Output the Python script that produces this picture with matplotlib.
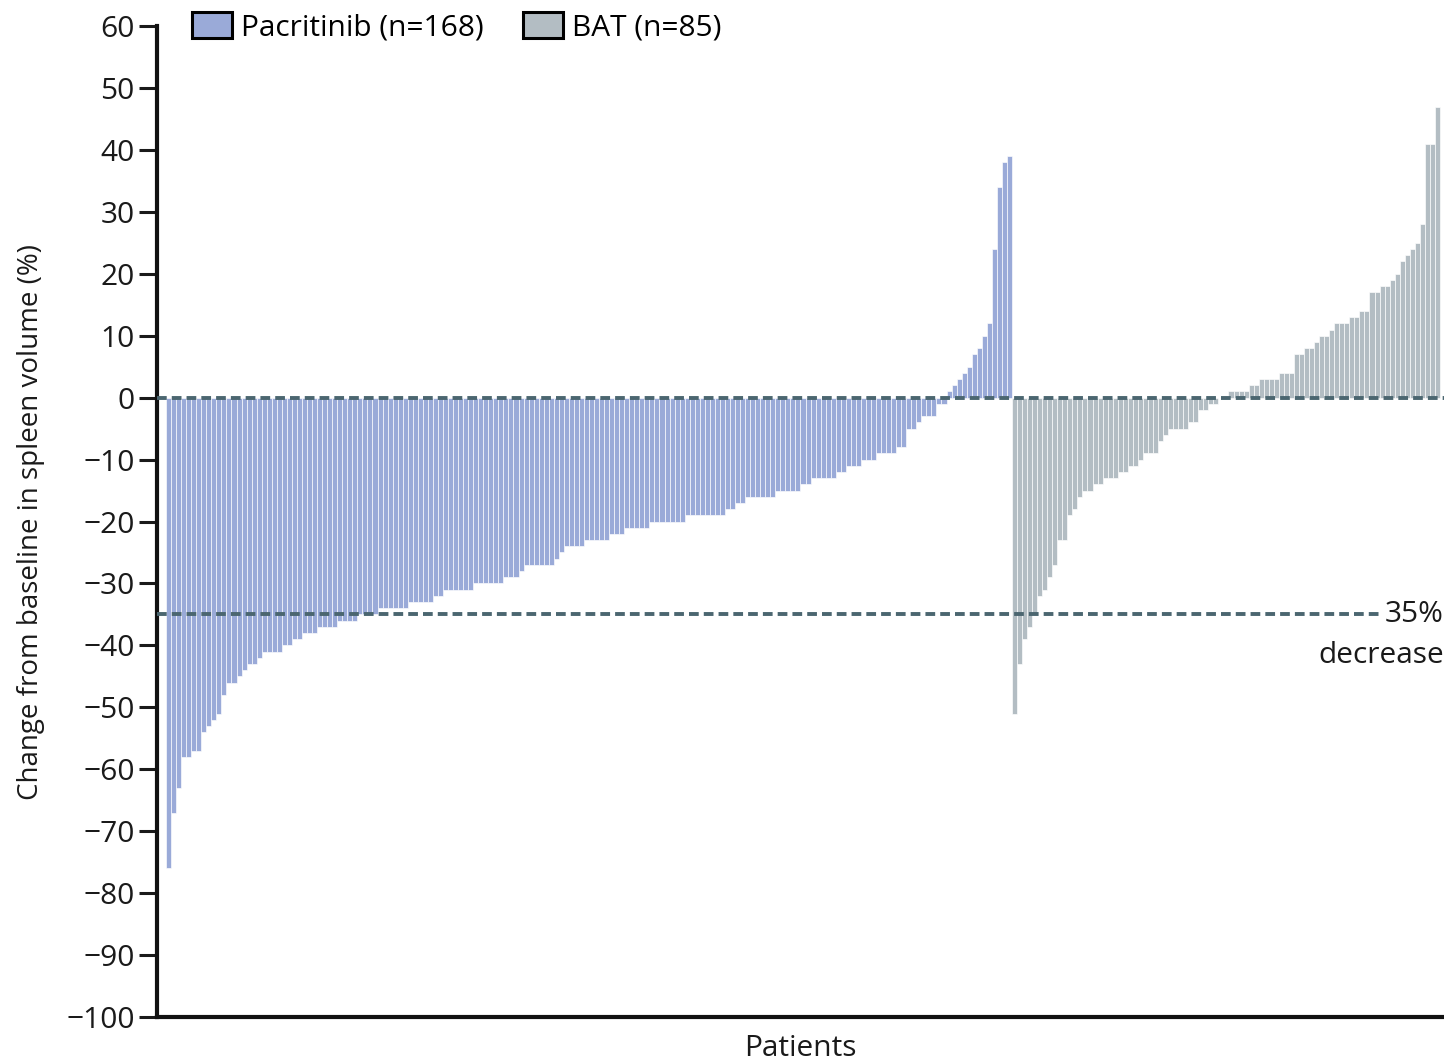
import matplotlib
matplotlib.use("Agg")
import matplotlib.pyplot as plt
from matplotlib.patches import Patch
from matplotlib import font_manager

# Waterfall values: change from baseline in spleen volume (%), sorted per arm
pacritinib = [
    -76, -67, -63, -58, -58, -57, -57, -54, -53, -52,
    -51, -48, -46, -46, -45, -44, -43, -43, -42, -41,
    -41, -41, -41, -40, -40, -39, -39, -38, -38, -38,
    -37, -37, -37, -37, -36, -36, -36, -36, -35, -35,
    -35, -35, -34, -34, -34, -34, -34, -34, -33, -33,
    -33, -33, -33, -32, -32, -31, -31, -31, -31, -31,
    -31, -30, -30, -30, -30, -30, -30, -29, -29, -29,
    -28, -27, -27, -27, -27, -27, -27, -26, -25, -24,
    -24, -24, -24, -23, -23, -23, -23, -23, -22, -22,
    -22, -21, -21, -21, -21, -21, -20, -20, -20, -20,
    -20, -20, -20, -19, -19, -19, -19, -19, -19, -19,
    -19, -18, -18, -17, -17, -16, -16, -16, -16, -16,
    -16, -15, -15, -15, -15, -15, -14, -14, -13, -13,
    -13, -13, -13, -12, -12, -11, -11, -11, -10, -10,
    -10, -9, -9, -9, -9, -8, -8, -5, -5, -4,
    -3, -3, -3, -1, -1, 1, 2, 3, 4, 5,
    7, 8, 10, 12, 24, 34, 38, 39,
]
bat = [
    -51, -43, -39, -37, -35, -32, -31, -29, -27, -23,
    -23, -19, -18, -16, -15, -15, -14, -14, -13, -13,
    -13, -12, -12, -11, -11, -10, -9, -9, -9, -7,
    -6, -5, -5, -5, -5, -4, -4, -2, -2, -1,
    -1, 0, 0, 1, 1, 1, 1, 2, 2, 3,
    3, 3, 3, 4, 4, 4, 7, 7, 8, 8,
    9, 10, 10, 11, 12, 12, 12, 13, 13, 14,
    14, 17, 17, 18, 18, 19, 20, 22, 23, 24,
    25, 28, 41, 41, 47,
]
labels = ["Pacritinib (n=168)", "BAT (n=85)"]
y_ticks = list(range(-100, 61, 10))
threshold = -35

blue = "#9aaad8"
grey = "#b3bdc3"
dash_col = "#4b6670"
ink = "#1a1a1a"
fs = 21.5

available = {f.name for f in font_manager.fontManager.ttflist}
family = [f for f in ["Liberation Sans Narrow", "Open Sans", "DejaVu Sans"] if f in available]
plt.rcParams["font.family"] = family

fig = plt.figure(figsize=(14.44, 10.63), dpi=100)
ax = fig.add_axes([0.1087, 0.0433, 0.8913, 0.9322])

n1, n2 = len(pacritinib), len(bat)
x1 = list(range(n1))
x2 = list(range(n1, n1 + n2))
ax.bar(x1, pacritinib, width=1.0, color=blue, edgecolor="white",
       linewidth=0.45, zorder=2)
ax.bar(x2, bat, width=1.0, color=grey, edgecolor="white",
       linewidth=0.45, zorder=2)

total = n1 + n2
ax.set_xlim(-2.3, total + 0.3)
ax.set_ylim(-100, 60)

dash = (0, (2.5, 1.3))
ax.axhline(0, color=dash_col, lw=2.8, ls=dash, zorder=3)
ax.plot([-2.3, total - 12], [threshold, threshold], color=dash_col,
        lw=2.8, ls=dash, zorder=3, clip_on=False)
ax.text(1.0, threshold, "35%", transform=ax.get_yaxis_transform(),
        ha="right", va="center", fontsize=fs, color=ink)
ax.text(1.0, threshold - 6.7, "decrease", transform=ax.get_yaxis_transform(),
        ha="right", va="center", fontsize=fs, color=ink)

ax.set_yticks(y_ticks)
ax.set_xticks([])
ax.tick_params(axis="y", direction="out", length=13, width=2.2,
               labelsize=fs, pad=3, colors=ink)
for side in ("top", "right"):
    ax.spines[side].set_visible(False)
for side in ("left", "bottom"):
    ax.spines[side].set_linewidth(3)
    ax.spines[side].set_color("#111111")

ax.set_ylabel("Change from baseline in spleen volume (%)", fontsize=20,
              color=ink, labelpad=15)
ax.set_xlabel("Patients", fontsize=fs, color=ink, labelpad=12)

handles = [Patch(facecolor=blue, edgecolor="black", linewidth=2.2),
           Patch(facecolor=grey, edgecolor="black", linewidth=2.2)]
ax.legend(handles, labels, loc="upper left", bbox_to_anchor=(0.018, 1.026),
          ncol=2, frameon=False, fontsize=fs, handlelength=1.35,
          handleheight=0.95, handletextpad=0.3, columnspacing=1.3,
          borderaxespad=0)

fig.savefig("out.png", dpi=100)
